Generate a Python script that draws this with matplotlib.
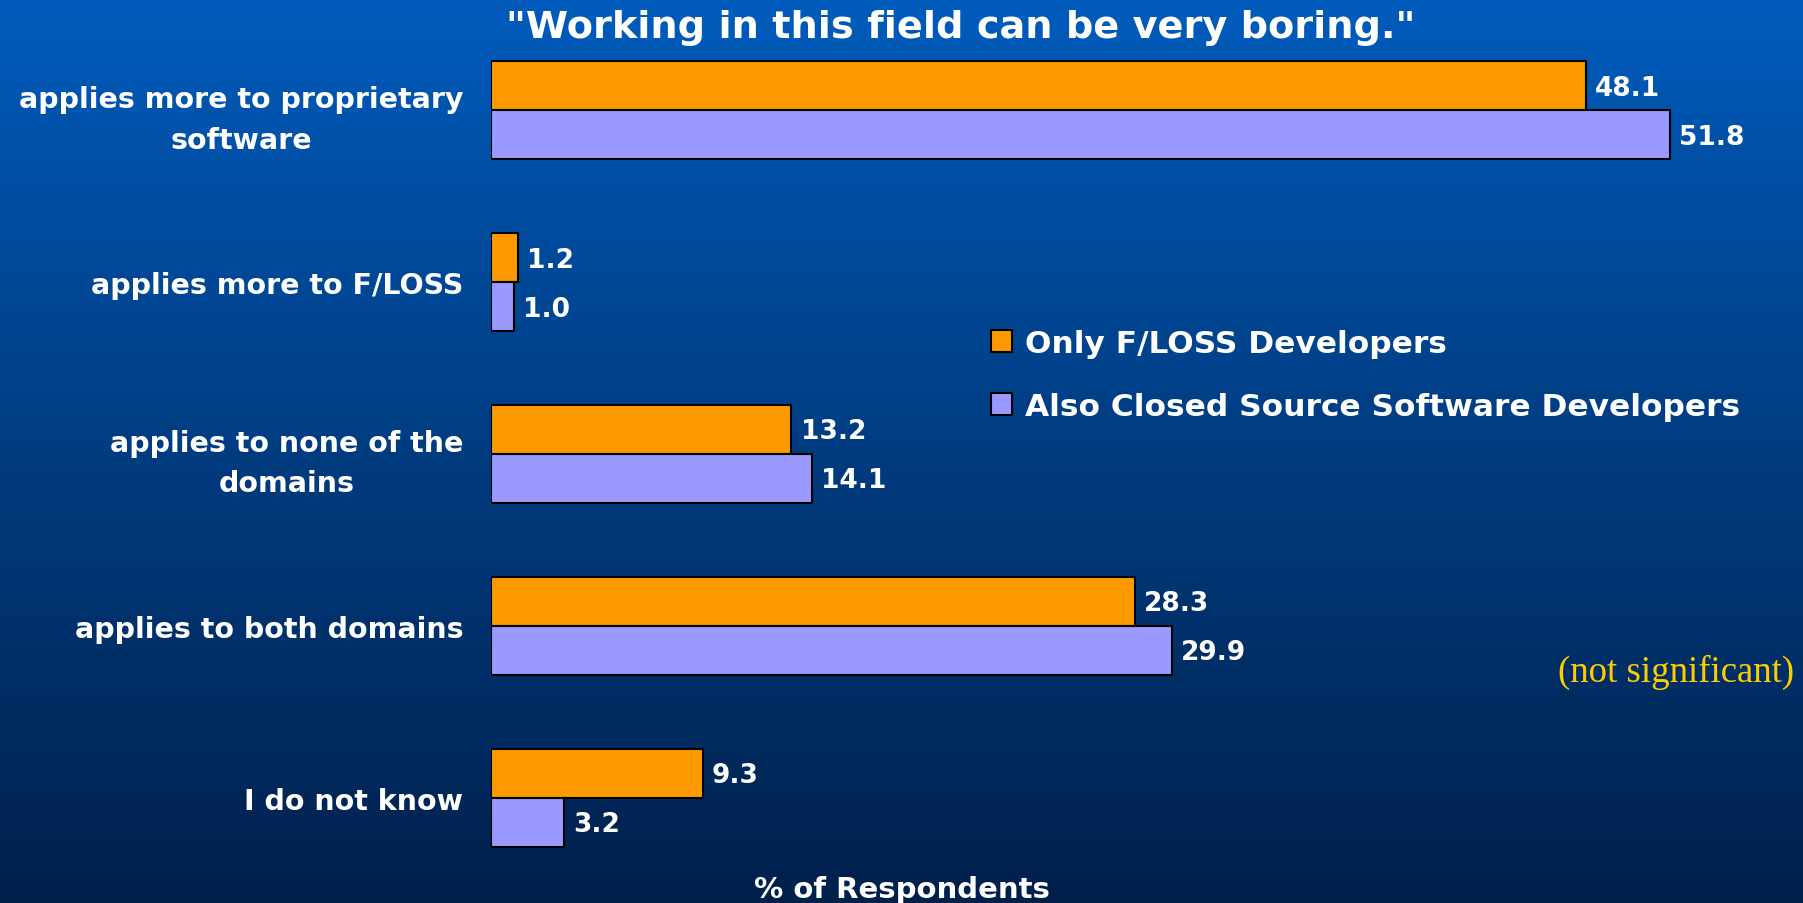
import numpy as np
import matplotlib
matplotlib.use("Agg")
import matplotlib.pyplot as plt
from matplotlib.colors import LinearSegmentedColormap

categories = ["applies more to proprietary\nsoftware",
              "applies more to F/LOSS",
              "applies to none of the\ndomains",
              "applies to both domains",
              "I do not know"]
only_floss = [48.1, 1.2, 13.2, 28.3, 9.3]
also_closed = [51.8, 1.0, 14.1, 29.9, 3.2]
series_names = ["Only F/LOSS Developers", "Also Closed Source Software Developers"]

sans = ["DejaVu Sans"]

fig = plt.figure(figsize=(18.03, 9.04), dpi=100)

# gradient background
bg = fig.add_axes([0, 0, 1, 1], zorder=0)
cmap = LinearSegmentedColormap.from_list("bg", ["#005CBC", "#003C80", "#00204C"])
bg.imshow(np.linspace(0, 1, 256).reshape(-1, 1), aspect="auto", cmap=cmap,
          extent=[0, 1, 0, 1])
bg.set_axis_off()

ax = fig.add_axes([0.2723, 0.021, 0.6944, 0.9508], zorder=1)
ax.patch.set_alpha(0)

y = np.arange(len(categories))
h = 0.285
b1 = ax.barh(y - h / 2, only_floss, height=h, color="#FF9900",
             edgecolor="black", linewidth=1.5, label=series_names[0])
b2 = ax.barh(y + h / 2, also_closed, height=h, color="#9999FF",
             edgecolor="black", linewidth=1.5, label=series_names[1])

for bars, vals in ((b1, only_floss), (b2, also_closed)):
    for bar, v in zip(bars, vals):
        ax.text(v + 0.4, bar.get_y() + bar.get_height() / 2 + 0.01, f"{v:.1f}",
                ha="left", va="center", color="white", fontsize=19,
                fontweight="bold", family=sans)

ax.set_xlim(0, 55)
ax.set_ylim(4.5, -0.5)
ax.set_xticks([])
ax.set_yticks(y)
ax.set_yticklabels(categories, color="white", fontsize=20.5, fontweight="bold",
                   family=sans, ha="right", multialignment="center",
                   linespacing=1.55)
ax.tick_params(axis="y", length=0, pad=20)
for s in ax.spines.values():
    s.set_visible(False)

leg = ax.legend(loc="upper left", bbox_to_anchor=(0.399, 0.646), frameon=False,
                borderaxespad=0, borderpad=0,
                handlelength=0.7, handleheight=0.7, handletextpad=0.4,
                labelspacing=1.1, prop={"family": sans, "weight": "bold", "size": 22.5},
                labelcolor="white")

fig.text(0.533, 0.958, "\"Working in this field can be very boring.\"",
         ha="center", va="baseline", color="white", fontsize=27.5,
         fontweight="bold", family=sans)
fig.text(0.5005, 0.016, "% of Respondents", ha="center", va="center",
         color="white", fontsize=21, fontweight="bold", family=sans)
fig.text(0.995, 0.256, "(not significant)", ha="right", va="center",
         color="#FFCC00", fontsize=26.5, family=["Liberation Serif", "DejaVu Serif"])

fig.savefig("out.png", dpi=100)
